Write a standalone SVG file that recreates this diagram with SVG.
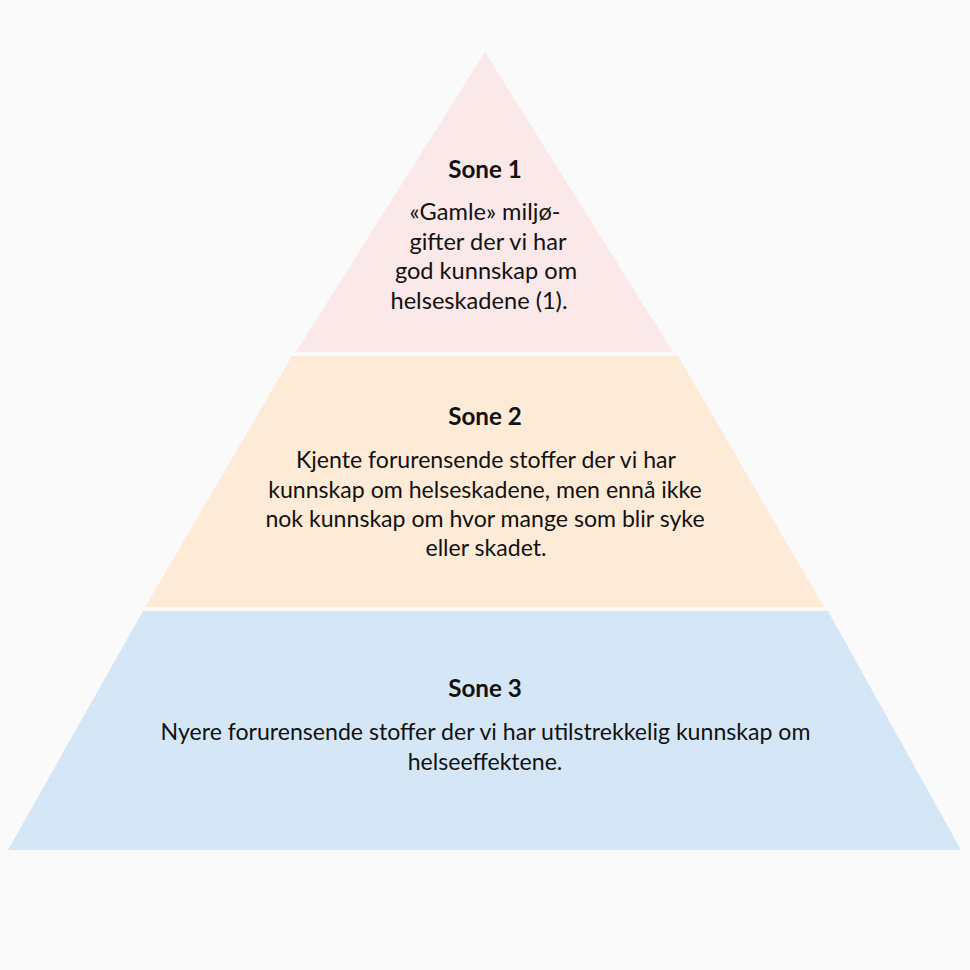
<svg xmlns="http://www.w3.org/2000/svg" width="970" height="970" viewBox="0 0 970 970">
<style>
.t{font-family:Lato,"Open Sans","Liberation Sans",sans-serif;font-size:23.1px;fill:#111;text-anchor:middle}
.s1{font-size:23.6px}
.h{font-weight:bold;font-size:24.2px}
</style>
<rect width="970" height="970" fill="#fafafa"/>
<g id="sone1">
<polygon points="485,52 673,352 296,352" fill="#fbe8e8"/>
<text class="t h" x="485" y="178">Sone 1</text>
<text class="t s1" x="485" y="220">«Gamle» miljø-</text>
<text class="t s1" x="488" y="249.5">gifter der vi har</text>
<text class="t s1" x="486" y="279">god kunnskap om</text>
<text class="t s1" x="479" y="308.5">helseskadene (1).</text>
</g>
<g id="sone2">
<polygon points="292,356 678,356 824,607 145,607" fill="#fdebd7"/>
<text class="t h" x="485" y="425">Sone 2</text>
<text class="t" x="486" y="468">Kjente forurensende stoffer der vi har</text>
<text class="t" x="485" y="497.5">kunnskap om helseskadene, men ennå ikke</text>
<text class="t" x="485" y="527">nok kunnskap om hvor mange som blir syke</text>
<text class="t" x="486" y="556">eller skadet.</text>
</g>
<g id="sone3">
<polygon points="143,611 828,611 961,850 8,850" fill="#d5e7f6"/>
<text class="t h" x="485" y="697">Sone 3</text>
<text class="t" x="485.5" y="740">Nyere forurensende stoffer der vi har utilstrekkelig kunnskap om</text>
<text class="t" x="485" y="770">helseeffektene.</text>
</g>
<g id="connectors"/>
</svg>
